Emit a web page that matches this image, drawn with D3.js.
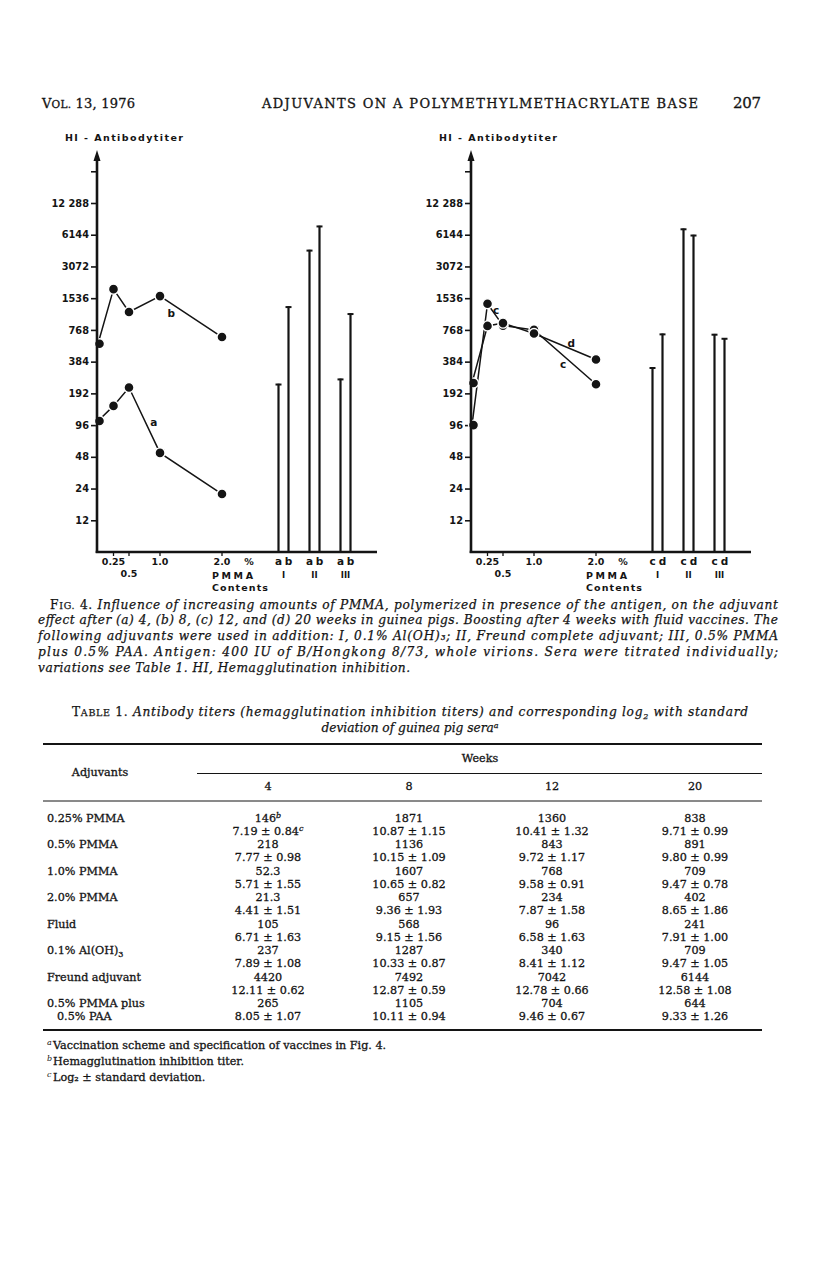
<!DOCTYPE html>
<html><head><meta charset="utf-8">
<script src="https://cdn.jsdelivr.net/npm/d3@7"></script>
<style>body{margin:0;background:#fff}svg{display:block}</style>
</head><body>
<script>
// ---------- data ----------
const pmmaPct = [0, 0.25, 0.5, 1.0, 2.0];          // 0 = fluid vaccine (no PMMA)
const week4  = [105, 146, 218, 52.3, 21.3];
const week8  = [568, 1871, 1136, 1607, 657];
const week12 = [96, 1360, 843, 768, 234];
const week20 = [241, 838, 891, 709, 402];
const adjGroups = ['I', 'II', 'III'];
const adjWeek4  = [237, 4420, 265];
const adjWeek8  = [1287, 7492, 1105];
const adjWeek12 = [340, 7042, 704];
const adjWeek20 = [709, 6144, 644];
const yTicks      = [12, 24, 48, 96, 192, 384, 768, 1536, 3072, 6144, 12288, 24576];
const yTickLabels = ['12', '24', '48', '96', '192', '384', '768', '1536', '3072', '6144', '12 288', ''];
const xTicks      = [0.25, 0.5, 1.0, 2.0];
const xTickLabels = ['0.25', '0.5', '1.0', '2.0'];

const tableRows = ['0.25% PMMA', '0.5% PMMA', '1.0% PMMA', '2.0% PMMA', 'Fluid', '0.1% Al(OH)3', 'Freund adjuvant', '0.5% PMMA plus'];
const weekCols = ['4', '8', '12', '20'];
const titer4  = ['146', '218', '52.3', '21.3', '105', '237', '4420', '265'];
const titer8  = ['1871', '1136', '1607', '657', '568', '1287', '7492', '1105'];
const titer12 = ['1360', '843', '768', '234', '96', '340', '7042', '704'];
const titer20 = ['838', '891', '709', '402', '241', '709', '6144', '644'];
const log4  = ['7.19 ± 0.84', '7.77 ± 0.98', '5.71 ± 1.55', '4.41 ± 1.51', '6.71 ± 1.63', '7.89 ± 1.08', '12.11 ± 0.62', '8.05 ± 1.07'];
const log8  = ['10.87 ± 1.15', '10.15 ± 1.09', '10.65 ± 0.82', '9.36 ± 1.93', '9.15 ± 1.56', '10.33 ± 0.87', '12.87 ± 0.59', '10.11 ± 0.94'];
const log12 = ['10.41 ± 1.32', '9.72 ± 1.17', '9.58 ± 0.91', '7.87 ± 1.58', '6.58 ± 1.63', '8.41 ± 1.12', '12.78 ± 0.66', '9.46 ± 0.67'];
const log20 = ['9.71 ± 0.99', '9.80 ± 0.99', '9.47 ± 0.78', '8.65 ± 1.86', '7.91 ± 1.00', '9.47 ± 1.05', '12.58 ± 1.08', '9.33 ± 1.26'];

// ---------- setup ----------
const W = 816, H = 1261, ink = '#141414';
const SANS = 'DejaVu Sans', SERIF = 'DejaVu Serif';
const svg = d3.select('body').append('svg').attr('width', W).attr('height', H);
svg.append('rect').attr('width', W).attr('height', H).attr('fill', '#fff');

function txt(g, x, y, s, o = {}) {
  const t = g.append('text').attr('x', x).attr('y', y).attr('fill', ink)
    .attr('font-family', o.family || SERIF).attr('font-size', o.size || 12)
    .attr('font-weight', o.weight || 'normal').attr('font-style', o.style || 'normal')
    .attr('text-anchor', o.anchor || 'start');
  if (o.heavy) t.attr('stroke', ink).attr('stroke-width', o.heavy);
  if (s !== null) t.text(s);
  if (o.len) t.attr('textLength', o.len).attr('lengthAdjust', o.adj || 'spacing');
  return t;
}

// ---------- page header ----------
const hdr = txt(svg, 42, 108, null, {size: 13, len: 93, heavy: 0.3});
hdr.append('tspan').text('V');
hdr.append('tspan').attr('font-size', 10.5).text('OL.');
hdr.append('tspan').text(' 13, 1976');
txt(svg, 262, 108, 'ADJUVANTS ON A POLYMETHYLMETHACRYLATE BASE', {size: 13, len: 436, heavy: 0.3});
txt(svg, 733, 108, '207', {size: 15, len: 28, heavy: 0.3});

// ---------- charts ----------
const y = d3.scaleLog().base(2).domain([6, 12288]).range([552, 203]);

function panel(ax, series, bars, letters, notes) {
  const g = svg.append('g');
  const x = d3.scaleLinear().domain([0, 2]).range([ax + 1, ax + 125]);
  const gx = d3.scaleBand().domain(adjGroups).range([ax + 171, ax + 264]);
  const sx = d3.scalePoint().domain([0, 1]).range([-5, 5]);
  const f = {family: SANS, weight: 'bold', size: 9.5};

  txt(g, ax - 32, 141, 'HI - Antibodytiter', {...f, len: 118});

  // y axis ticks + labels
  const ga = g.append('g').attr('transform', `translate(${ax},0)`)
    .call(d3.axisLeft(y).tickValues(yTicks).tickFormat((d, i) => yTickLabels[i]).tickSize(6).tickPadding(2));
  ga.select('.domain').remove();
  ga.selectAll('line').attr('stroke', ink).attr('stroke-width', 1.6);
  ga.selectAll('text').attr('fill', ink).attr('font-family', SANS).attr('font-weight', 'bold').attr('font-size', 9.8);

  // series lines and dots
  const line = d3.line().x((d, i) => x(pmmaPct[i])).y(d => y(d));
  series.forEach(s => g.append('path').attr('d', line(s)).attr('fill', 'none').attr('stroke', ink).attr('stroke-width', 1.5));
  series.forEach(s => g.selectAll(null).data(s).join('circle')
    .attr('cx', (d, i) => x(pmmaPct[i]) + (i === 0 ? 1.5 : 0)).attr('cy', d => y(d)).attr('r', 5)
    .attr('fill', ink).attr('stroke', '#fff').attr('stroke-width', 1.4));

  // bars (I, II, III) for each week
  bars.forEach((vals, j) => {
    vals.forEach((v, i) => {
      const bx = gx(adjGroups[i]) + gx.bandwidth() / 2 + sx(j);
      g.append('line').attr('x1', bx).attr('x2', bx).attr('y1', y.range()[0]).attr('y2', y(v))
        .attr('stroke', ink).attr('stroke-width', 2.2);
      g.append('line').attr('x1', bx - 3).attr('x2', bx + 3).attr('y1', y(v) + 0.8).attr('y2', y(v) + 0.8)
        .attr('stroke', ink).attr('stroke-width', 2);
      txt(g, bx, 565, letters[j], {...f, anchor: 'middle', size: 10.5});
    });
    if (j === 0) adjGroups.forEach(k => txt(g, gx(k) + gx.bandwidth() / 2, 578, k, {...f, anchor: 'middle', size: 8.5}));
  });

  // axes lines
  g.append('line').attr('x1', ax).attr('x2', ax).attr('y1', 553).attr('y2', 158).attr('stroke', ink).attr('stroke-width', 2.6);
  g.append('path').attr('d', `M${ax - 3.5},161L${ax},150L${ax + 3.5},161Z`).attr('fill', ink);
  g.append('line').attr('x1', ax - 1.3).attr('x2', ax + 280).attr('y1', 552).attr('y2', 552).attr('stroke', ink).attr('stroke-width', 2.4);

  // x ticks + labels
  xTicks.forEach((t, i) => {
    g.append('line').attr('x1', x(t)).attr('x2', x(t)).attr('y1', 552).attr('y2', 556).attr('stroke', ink).attr('stroke-width', 1.3);
    txt(g, x(t), xTickLabels[i] === '0.5' ? 577 : 565, xTickLabels[i], {...f, anchor: 'middle'});
  });
  txt(g, x(2) + 27, 565, '%', {...f, anchor: 'middle'});
  txt(g, ax + 115, 579, 'PMMA', {...f, len: 41});
  txt(g, ax + 115, 591, 'Contents', {...f, len: 56});

  // curve letters
  notes.forEach(n => txt(g, x(n.p), y(n.v) + 4, n.t, {...f, anchor: 'middle', size: 10.5}));
}

panel(97, [week4, week8], [adjWeek4, adjWeek8], ['a', 'b'],
  [{t: 'a', p: 0.9, v: 102}, {t: 'b', p: 1.18, v: 1100}]);
panel(471, [week12, week20], [adjWeek12, adjWeek20], ['c', 'd'],
  [{t: 'c', p: 0.39, v: 1180}, {t: 'd', p: 1.6, v: 575}, {t: 'c', p: 1.47, v: 363}]);

// ---------- figure caption ----------
const capLines = [
  'Influence of increasing amounts of PMMA, polymerized in presence of the antigen, on the adjuvant',
  'effect after (a) 4, (b) 8, (c) 12, and (d) 20 weeks in guinea pigs. Boosting after 4 weeks with fluid vaccines. The',
  'following adjuvants were used in addition: I, 0.1% Al(OH)₃; II, Freund complete adjuvant; III, 0.5% PMMA',
  'plus 0.5% PAA. Antigen: 400 IU of B/Hongkong 8/73, whole virions. Sera were titrated individually;',
  'variations see Table 1. HI, Hemagglutination inhibition.'
];
const capY = 608.5, capStep = 15.8, HV = 0.25;
const c0 = txt(svg, 50, capY, null, {size: 12.2, len: 728, heavy: HV});
c0.append('tspan').text('F');
c0.append('tspan').attr('font-size', 9.5).text('IG.');
c0.append('tspan').text(' 4. ');
c0.append('tspan').attr('font-style', 'italic').text(capLines[0]);
capLines.slice(1).forEach((s, i) => {
  txt(svg, 38, capY + capStep * (i + 1), s, {size: 12.2, style: 'italic', heavy: HV, len: i < 3 ? 740 : 372});
});

// ---------- table ----------
const t1 = txt(svg, 410, 715.5, null, {size: 12.2, anchor: 'middle', len: 676, heavy: HV});
t1.append('tspan').text('T');
t1.append('tspan').attr('font-size', 9.5).text('ABLE');
t1.append('tspan').text(' 1. ');
t1.append('tspan').attr('font-style', 'italic').text('Antibody titers (hemagglutination inhibition titers) and corresponding log');
t1.append('tspan').attr('font-style', 'italic').attr('font-size', 8).attr('dy', 3).text('2');
t1.append('tspan').attr('font-style', 'italic').attr('dy', -3).text(' with standard');
const t2 = txt(svg, 410, 732, null, {size: 12.2, anchor: 'middle', style: 'italic', heavy: HV});
t2.append('tspan').text('deviation of guinea pig sera');
t2.append('tspan').attr('font-size', 8).attr('dy', -4).text('a');

const rule = (x1, x2, yy, w) => svg.append('line').attr('x1', x1).attr('x2', x2).attr('y1', yy).attr('y2', yy).attr('stroke', ink).attr('stroke-width', w);
rule(43, 762, 744, 2);
rule(197, 762, 773.5, 1);
rule(43, 762, 801, 1);
rule(43, 762, 1030, 2);

const colX = [268, 409, 552, 695];
const TS = 11.2;
const tb = {size: TS, heavy: 0.3};
txt(svg, 480, 762, 'Weeks', {...tb, anchor: 'middle'});
txt(svg, 100, 775.5, 'Adjuvants', {...tb, anchor: 'middle'});
weekCols.forEach((w, i) => txt(svg, colX[i], 790, w, {...tb, anchor: 'middle'}));

const titers = [titer4, titer8, titer12, titer20];
const logs = [log4, log8, log12, log20];
const rowStep = 26.5, subStep = 13.25;
tableRows.forEach((r, i) => {
  const yy = 821.5 + i * rowStep;
  const lab = txt(svg, 47, yy, null, tb);
  if (r.endsWith('(OH)3')) {
    lab.append('tspan').text('0.1% Al(OH)');
    lab.append('tspan').attr('font-size', 8).attr('dy', 2.5).text('3');
  } else lab.text(r);
  if (i === tableRows.length - 1) txt(svg, 57, yy + subStep, '0.5% PAA', tb);
  titers.forEach((col, k) => {
    const t = txt(svg, colX[k], yy, col[i], {...tb, anchor: 'middle'});
    if (i === 0 && k === 0) t.append('tspan').attr('font-size', 8).attr('font-style', 'italic').attr('dy', -4).text('b');
  });
  logs.forEach((col, k) => {
    const t = txt(svg, colX[k], yy + subStep, col[i], {...tb, anchor: 'middle'});
    if (i === 0 && k === 0) t.append('tspan').attr('font-size', 8).attr('font-style', 'italic').attr('dy', -4).text('c');
  });
});

// footnotes
const foot = [['a', 'Vaccination scheme and specification of vaccines in Fig. 4.'],
              ['b', 'Hemagglutination inhibition titer.'],
              ['c', 'Log₂ ± standard deviation.']];
foot.forEach((f, i) => {
  const yy = 1049 + i * 16;
  txt(svg, 47, yy - 4, f[0], {size: 8, style: 'italic'});
  txt(svg, 53, yy, f[1], tb);
});
</script>
</body></html>
